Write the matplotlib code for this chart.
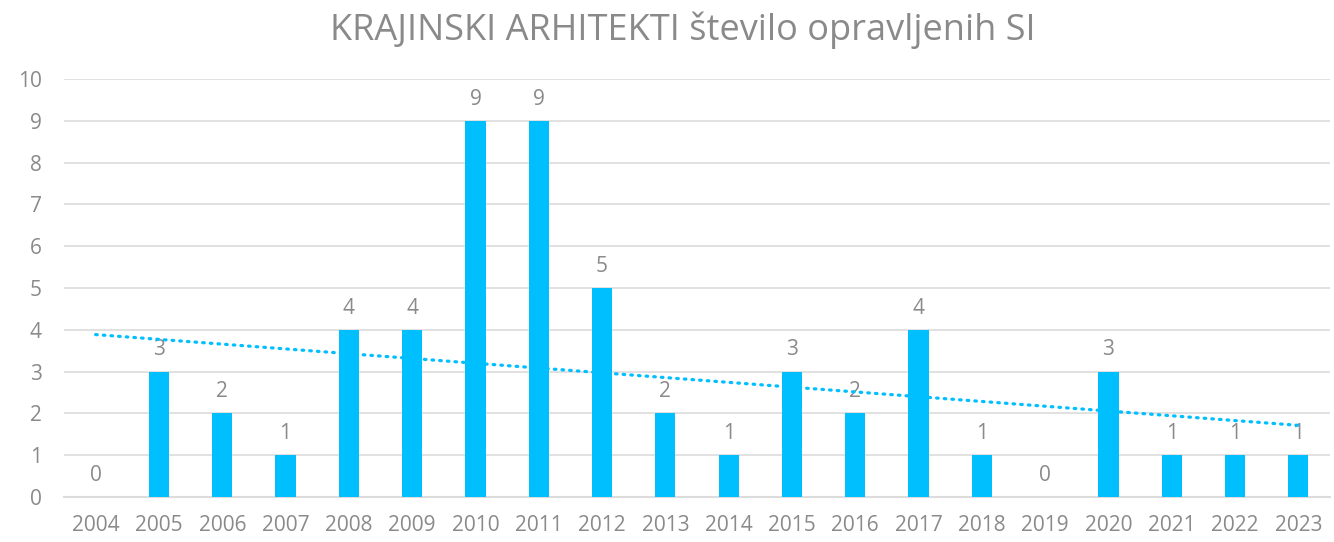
import matplotlib
matplotlib.use("Agg")
import matplotlib.pyplot as plt
import numpy as np

years = ["2004", "2005", "2006", "2007", "2008", "2009", "2010", "2011", "2012", "2013",
         "2014", "2015", "2016", "2017", "2018", "2019", "2020", "2021", "2022", "2023"]
values = [0, 3, 2, 1, 4, 4, 9, 9, 5, 2, 1, 3, 2, 4, 1, 0, 3, 1, 1, 1]
title = "KRAJINSKI ARHITEKTI število opravljenih SI"

plt.rcParams['font.family'] = ['Open Sans', 'DejaVu Sans']
bar_color = "#00BFFF"
text_color = "#8A8A8A"
grid_color = "#DCDCDC"

fig = plt.figure(figsize=(13.34, 5.42), dpi=100)
ax = fig.add_axes([64/1334, 45/542, 1266/1334, (497-79)/542])

x = np.arange(len(years))
ax.bar(x, values, width=0.32, color=bar_color, zorder=3)

for xi, v in zip(x, values):
    ax.annotate(str(v), (xi, v), xytext=(0, 8), textcoords="offset points",
                ha="center", va="bottom", color=text_color, fontsize=15)

coef = np.polyfit(x, values, 1)
trend = np.polyval(coef, x)
ax.plot(x, trend, color=bar_color, linewidth=2.3, linestyle=(0, (0.5, 1.9)),
        dash_capstyle="round", zorder=4)

ax.set_xlim(-0.5, len(years) - 0.5)
ax.set_ylim(0, 10)
ax.set_yticks(range(0, 11))
ax.set_xticks(x)
ax.set_xticklabels(years)
ax.tick_params(axis="both", length=0, labelsize=15, labelcolor=text_color)
ax.tick_params(axis="y", pad=16)
ax.tick_params(axis="x", pad=13)
ax.grid(axis="y", color=grid_color, linewidth=1.2, zorder=0)
for s in ["top", "right", "left"]:
    ax.spines[s].set_visible(False)
ax.spines["bottom"].set_color(grid_color)
ax.spines["bottom"].set_linewidth(1.5)

fig.text(683/1334, 1 - 30/542, title, ha="center", va="center", color=text_color, fontsize=26)

fig.savefig("out.png", dpi=100)
